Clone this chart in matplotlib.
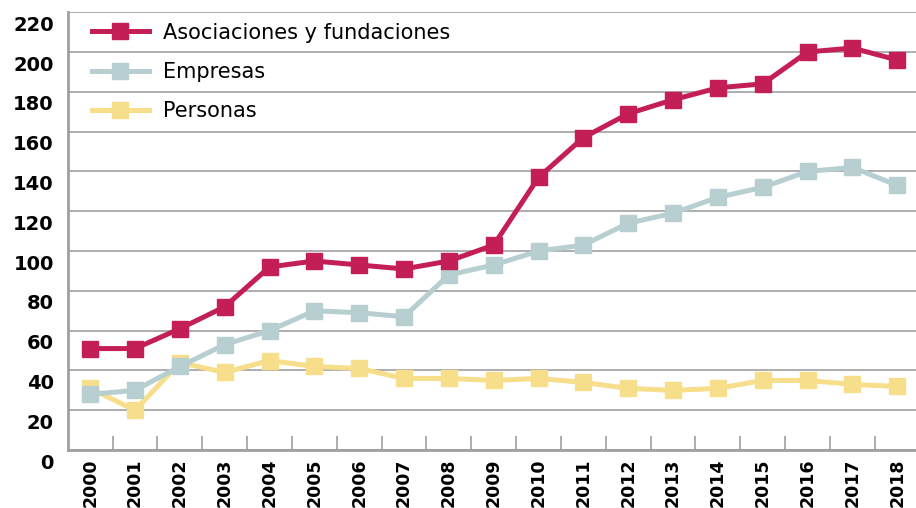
import numpy as np
import matplotlib
matplotlib.use("Agg")
import matplotlib.pyplot as plt
import matplotlib.transforms as mtransforms

years = [str(y) for y in range(2000, 2019)]
asociaciones = [51, 51, 61, 72, 92, 95, 93, 91, 95, 103, 137, 157, 169, 176, 182, 184, 200, 202, 196]
empresas = [28, 30, 42, 53, 60, 70, 69, 67, 88, 93, 100, 103, 114, 119, 127, 132, 140, 142, 133]
personas = [31, 20, 44, 39, 45, 42, 41, 36, 36, 35, 36, 34, 31, 30, 31, 35, 35, 33, 32]
yticks = list(range(0, 221, 20))

red = "#c41e56"
teal = "#b7cfd1"
yellow = "#f7de8b"
grey = "#a0a0a0"

fig = plt.figure(figsize=(9.16, 5.08), dpi=100)
ax = fig.add_axes([0.074, 0.114, 0.93, 0.862])

x = np.arange(len(years))
lp = dict(lw=3.6, marker="s", ms=11, solid_joinstyle="miter")
l3, = ax.plot(x, personas, color=yellow, label="Personas", **lp)
l2, = ax.plot(x, empresas, color=teal, label="Empresas", **lp)
l1, = ax.plot(x, asociaciones, color=red, label="Asociaciones y fundaciones", **lp)

ax.set_xlim(-0.5, len(years) - 0.5)
ax.set_ylim(0, 220)
ax.set_yticks(yticks)
ax.set_xticks(x)
ax.set_xticklabels(years, rotation=90, fontsize=12.5, fontweight="bold")
ax.set_xticks(np.arange(0.5, len(years) - 1, 1), minor=True)
ax.tick_params(axis="x", which="major", length=0, pad=6)
ax.tick_params(axis="x", which="minor", direction="in", length=10, width=1.2, color=grey)
ax.tick_params(axis="y", length=0, pad=10, labelsize=14)
for lab in ax.get_yticklabels():
    lab.set_fontweight("bold")
    lab.set_transform(lab.get_transform() + mtransforms.ScaledTranslation(0, -11 / 100, fig.dpi_scale_trans))

ax.grid(axis="y", color=grey, lw=1.2)
ax.set_axisbelow(True)
for s in ["top", "right"]:
    ax.spines[s].set_visible(False)
for s in ["left", "bottom"]:
    ax.spines[s].set_color(grey)
    ax.spines[s].set_linewidth(2)

ax.legend(handles=[l1, l2, l3], loc="upper left", bbox_to_anchor=(0.028, 0.976),
          frameon=False, fontsize=15, handlelength=2.75, handletextpad=0.67,
          labelspacing=0.92, borderpad=0, borderaxespad=0)

fig.savefig("out.png", dpi=100)
